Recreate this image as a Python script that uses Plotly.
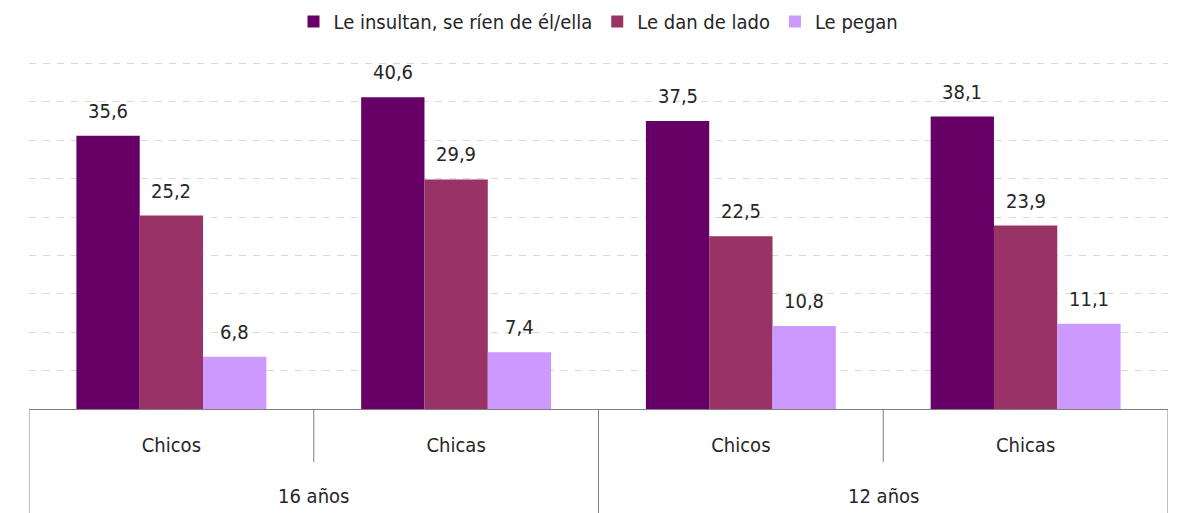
import plotly.graph_objects as go

outer = ["16 años", "16 años", "12 años", "12 años"]
inner = ["Chicos", "Chicas", "Chicos", "Chicas"]
series_names = ["Le insultan, se ríen de él/ella", "Le dan de lado", "Le pegan"]
insultan = [35.6, 40.6, 37.5, 38.1]
lado = [25.2, 29.9, 22.5, 23.9]
pegan = [6.8, 7.4, 10.8, 11.1]
colors = ["#660066", "#993366", "#CC99FF"]

FONT = "DejaVu Sans Condensed, DejaVu Sans, sans-serif"
TXT = "#262626"
LINE = "#7f7f7f"
BARGAP = 0.333
FS = 20

idx = list(range(len(inner)))

def fmt(v):
    return f"{v:.1f}".replace(".", ",")

fig = go.Figure()
annotations = []
series = [insultan, lado, pegan]
nser = len(series)
w = (1 - BARGAP) / nser
for k, (name, vals, col) in enumerate(zip(series_names, series, colors)):
    fig.add_trace(go.Bar(
        x=idx, y=vals, name=name, marker_color=col, marker_line_width=0,
    ))
    for i, v in zip(idx, vals):
        annotations.append(dict(
            x=i + (k - (nser - 1) / 2) * w, y=v, xref="x", yref="y",
            text=fmt(v), showarrow=False, yanchor="middle", yshift=25,
            font=dict(family=FONT, size=FS, color=TXT),
        ))

# outer group labels and dividers
groups = []
for i, g in enumerate(outer):
    if not groups or groups[-1][0] != g:
        groups.append([g, i, i])
    else:
        groups[-1][2] = i

shapes = []
for g, a, b in groups:
    annotations.append(dict(
        x=(a + b) / 2, y=-87 / 347, xref="x", yref="paper", text=g, showarrow=False,
        yanchor="middle", font=dict(family=FONT, size=FS, color=TXT),
    ))
    for xb in (a - 0.5, b + 0.5):
        shapes.append(dict(type="line", xref="x", yref="paper", x0=xb, x1=xb,
                           y0=0, y1=-110 / 347, line=dict(color=LINE, width=1)))
    for j in range(a, b):
        shapes.append(dict(type="line", xref="x", yref="paper", x0=j + 0.5, x1=j + 0.5,
                           y0=0, y1=-53 / 347, line=dict(color=LINE, width=1)))

fig.update_layout(
    width=1186, height=513,
    margin=dict(l=29, r=18, t=62, b=104),
    paper_bgcolor="white", plot_bgcolor="white",
    barmode="group", bargap=BARGAP, bargroupgap=0,
    font=dict(family=FONT, size=FS, color=TXT),
    showlegend=True,
    legend=dict(orientation="h", x=0.5, xanchor="center", y=1 - 2 / 513, yanchor="top",
                yref="container", font=dict(family=FONT, size=20, color=TXT),
                itemwidth=30),
    xaxis=dict(range=[-0.5, len(inner) - 0.5], tickmode="array", tickvals=idx, ticktext=inner,
               showline=True, linecolor=LINE, linewidth=1, ticks="", showgrid=False,
               zeroline=False, ticklabelstandoff=18,
               tickfont=dict(family=FONT, size=FS, color=TXT), automargin=False),
    yaxis=dict(range=[0, 45.2], dtick=5, showticklabels=False, showgrid=True,
               gridcolor="#d9d9d9", gridwidth=1, griddash="7px,7px", zeroline=False,
               showline=False, automargin=False),
    annotations=annotations,
    shapes=shapes,
)

fig.write_html("out.html", config={"displayModeBar": False},
               post_script="document.body.style.margin='0';")
